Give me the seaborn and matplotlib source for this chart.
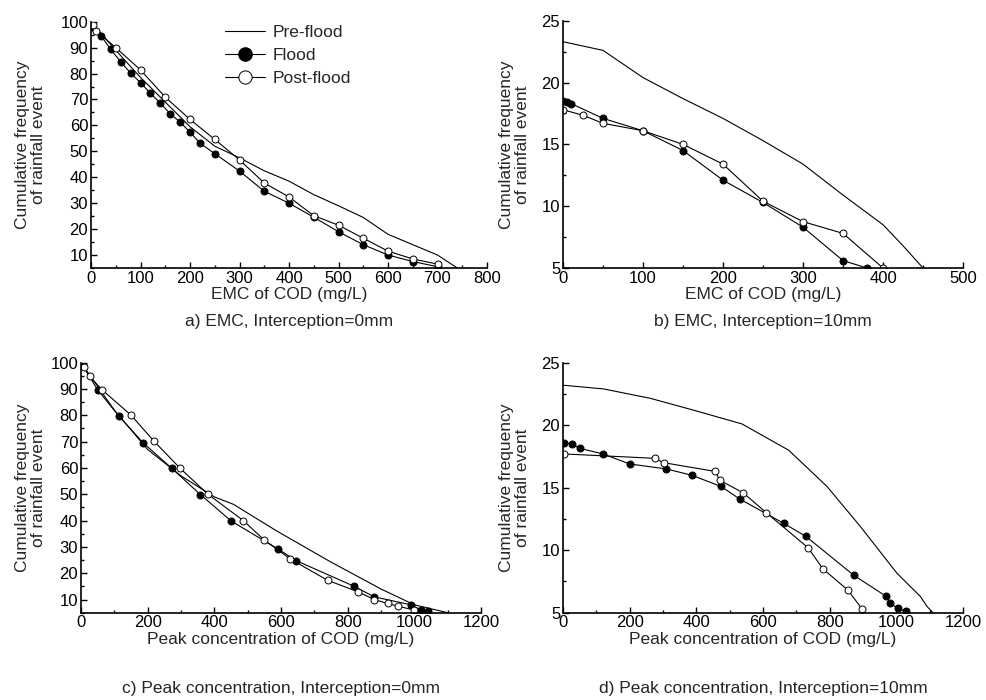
import matplotlib
matplotlib.use("Agg")
import matplotlib.pyplot as plt
import seaborn as sns
from matplotlib.ticker import MultipleLocator
from matplotlib.lines import Line2D

# a) EMC, interception 0 mm
pre_a_x = [0, 50, 100, 150, 200, 250, 300, 350, 400, 450, 500, 550, 600, 650, 700, 740]
pre_a_y = [100, 89, 78.5, 69, 59.5, 52, 47.5, 42.5, 38.5, 33.3, 29, 24.5, 18, 14, 10, 5]
flood_a_x = [0, 20, 40, 60, 80, 100, 120, 140, 160, 180, 200, 220, 250, 300, 350, 400, 450, 500, 550, 600, 650, 700]
flood_a_y = [98, 94.6, 89.3, 84.5, 80.2, 76.5, 72.4, 68.6, 64.5, 61.3, 57.4, 53.2, 49.1, 42.4, 34.6, 30, 24.6, 19, 14, 10, 7.5, 5.5]
post_a_x = [0, 5, 10, 50, 100, 150, 200, 250, 300, 350, 400, 450, 500, 550, 600, 650, 700]
post_a_y = [100, 98.7, 96.5, 90, 81.4, 70.9, 62.3, 54.6, 46.7, 37.8, 32.4, 25.2, 21.5, 16.5, 11.5, 8.5, 6.5]

# b) EMC, interception 10 mm
pre_b_x = [0, 50, 100, 150, 200, 250, 300, 350, 400, 425, 450]
pre_b_y = [23.3, 22.6, 20.4, 18.7, 17.1, 15.3, 13.4, 10.9, 8.5, 6.8, 5.0]
flood_b_x = [0, 5, 10, 50, 100, 150, 200, 250, 300, 350, 380]
flood_b_y = [18.5, 18.4, 18.3, 17.1, 16.1, 14.5, 12.1, 10.3, 8.3, 5.6, 5.0]
post_b_x = [0, 25, 50, 100, 150, 200, 250, 300, 350, 400]
post_b_y = [17.8, 17.35, 16.7, 16.1, 15.0, 13.4, 10.4, 8.75, 7.8, 5.0]

# c) Peak concentration, interception 0 mm
pre_c_x = [0, 100, 200, 300, 400, 457, 588, 749, 900, 1000, 1100]
pre_c_y = [100, 82, 67, 57, 49, 46.2, 36, 24.3, 14, 8, 5]
flood_c_x = [5, 50, 113, 186, 273, 358, 451, 591, 645, 820, 880, 990, 1020, 1040]
flood_c_y = [99, 89.7, 79.8, 69.6, 59.8, 49.9, 39.8, 29.2, 24.8, 15, 11, 8, 6, 5.5]
post_c_x = [8, 26, 63, 150, 218, 298, 381, 487, 549, 628, 740, 830, 880, 920, 950, 1000]
post_c_y = [98.4, 94.8, 89.7, 80.1, 70.3, 59.8, 50, 40, 32.7, 25.4, 17.3, 13, 10, 8.5, 7.5, 6]

# d) Peak concentration, interception 10 mm
pre_d_x = [0, 122, 262, 392, 537, 597, 677, 792, 892, 1002, 1072, 1092, 1110]
pre_d_y = [23.2, 22.9, 22.15, 21.2, 20.1, 19.2, 18.0, 15.1, 11.9, 8.15, 6.3, 5.5, 5.0]
flood_d_x = [4, 27, 50, 120, 200, 310, 386, 474, 530, 662, 729, 872, 970, 980, 1004, 1028]
flood_d_y = [18.6, 18.5, 18.15, 17.7, 16.9, 16.5, 16.0, 15.1, 14.1, 12.15, 11.1, 8.0, 6.3, 5.8, 5.35, 5.1]
post_d_x = [4, 275, 302, 457, 470, 540, 610, 735, 780, 855, 897]
post_d_y = [17.7, 17.35, 17.0, 16.3, 15.6, 14.6, 13.0, 10.2, 8.5, 6.8, 5.3]

xlabels = ["EMC of COD (mg/L)", "EMC of COD (mg/L)",
           "Peak concentration of COD (mg/L)", "Peak concentration of COD (mg/L)"]
titles = ["a) EMC, Interception=0mm", "b) EMC, Interception=10mm",
          "c) Peak concentration, Interception=0mm", "d) Peak concentration, Interception=10mm"]
ylabel = "Cumulative frequency\nof rainfall event"

sns.set_style("ticks")
plt.rcParams['font.family'] = ['Liberation Sans', 'DejaVu Sans']
plt.rcParams['font.size'] = 12

fig = plt.figure(figsize=(9.86, 7.0), dpi=100)
W, H = 986, 700
# axes rectangles in pixels: left, right, top, bottom
rects = [(91, 487, 21.7, 268), (563, 963, 20.7, 268),
         (81, 481, 362.7, 612.7), (563, 963, 362.7, 612.7)]
axes = []
for l, r, t, b in rects:
    axes.append(fig.add_axes([l / W, 1 - b / H, (r - l) / W, (b - t) / H]))

series = [
    (pre_a_x, pre_a_y, flood_a_x, flood_a_y, post_a_x, post_a_y),
    (pre_b_x, pre_b_y, flood_b_x, flood_b_y, post_b_x, post_b_y),
    (pre_c_x, pre_c_y, flood_c_x, flood_c_y, post_c_x, post_c_y),
    (pre_d_x, pre_d_y, flood_d_x, flood_d_y, post_d_x, post_d_y),
]
xlims = [(0, 800), (0, 500), (0, 1200), (0, 1200)]
xmaj = [100, 100, 200, 200]
ylims = [(5, 100), (5, 25), (5, 100), (5, 25)]
ymaj = [10, 5, 10, 5]
# right edge of y label (pixels) and centre height of title (pixels)
ylab_right = [46, 530, 46, 530]
title_y = [321, 321, 688, 688]
ms = 5

for i, ax in enumerate(axes):
    px, py, fx, fy, ox, oy = series[i]
    sns.lineplot(x=px, y=py, ax=ax, color="black", lw=0.8, sort=False, estimator=None)
    sns.lineplot(x=fx, y=fy, ax=ax, color="black", lw=0.8, sort=False, estimator=None,
                 marker="o", markersize=ms, markerfacecolor="black", markeredgecolor="black")
    sns.lineplot(x=ox, y=oy, ax=ax, color="black", lw=0.8, sort=False, estimator=None,
                 marker="o", markersize=ms, markerfacecolor="white", markeredgecolor="black",
                 markeredgewidth=0.7)
    ax.set_xlim(*xlims[i])
    ax.set_ylim(*ylims[i])
    ax.xaxis.set_major_locator(MultipleLocator(xmaj[i]))
    ax.xaxis.set_minor_locator(MultipleLocator(xmaj[i] / 2))
    ax.yaxis.set_major_locator(MultipleLocator(ymaj[i]))
    ax.yaxis.set_minor_locator(MultipleLocator(ymaj[i] / 2))
    if ymaj[i] == 10:
        ax.set_yticks(range(10, 101, 10))
    ax.tick_params(which="both", direction="in", width=1, colors="black", labelsize=12, pad=2)
    ax.tick_params(which="major", length=4)
    ax.tick_params(which="minor", length=2)
    for s in ["top", "right"]:
        ax.spines[s].set_visible(False)
    for s in ["left", "bottom"]:
        ax.spines[s].set_linewidth(1.2)
        ax.spines[s].set_color("black")
    ax.set_xlabel(xlabels[i], fontsize=12.5, labelpad=1)
    ax.set_ylabel(ylabel, fontsize=12.5, linespacing=1.05)
    l, r, t, b = rects[i]
    ax.yaxis.set_label_coords((ylab_right[i] - l) / (r - l), 0.5)
    fig.text((l + r) / 2 / W, 1 - title_y[i] / H, titles[i], ha="center", va="center",
             fontsize=12.5)

handles = [
    Line2D([], [], color="black", lw=0.8),
    Line2D([], [], color="black", lw=0.8, marker="o", markersize=9.5,
           markerfacecolor="black", markeredgecolor="black"),
    Line2D([], [], color="black", lw=0.8, marker="o", markersize=9.5,
           markerfacecolor="white", markeredgecolor="black", markeredgewidth=0.7),
]
axes[0].legend(handles, ["Pre-flood", "Flood", "Post-flood"], loc="upper left",
               bbox_to_anchor=(0.30, 1.052), frameon=False, handlelength=2.3,
               labelspacing=0.45, handletextpad=0.4, fontsize=12.5)

fig.savefig("out.png", dpi=100)
